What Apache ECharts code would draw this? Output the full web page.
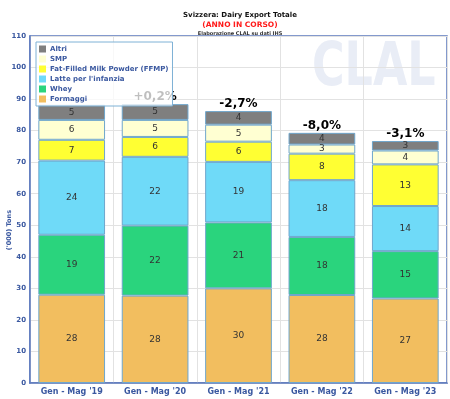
<!DOCTYPE html>
<html>
<head>
<meta charset="utf-8">
<script src="https://cdn.jsdelivr.net/npm/echarts@6/dist/echarts.min.js"></script>
<style>
  html, body { margin: 0; padding: 0; background: #fff; }
  #chart { width: 450px; height: 399px; }
</style>
</head>
<body>
<div id="chart"></div>
<script>
// periodi
const categories = ["Gen - Mag '19", "Gen - Mag '20", "Gen - Mag '21", "Gen - Mag '22", "Gen - Mag '23"]
// ('000) Tons, dal basso verso l'alto
const formaggi = [28.0, 27.7, 30.0, 27.9, 26.8]
const whey = [19.0, 22.2, 20.9, 18.4, 15.0]
const latteInfanzia = [23.5, 21.8, 19.2, 18.0, 14.3]
const ffmp = [6.6, 6.3, 6.4, 8.4, 13.2]
const smp = [6.3, 5.4, 5.4, 2.9, 4.4]
const altri = [4.8, 5.0, 4.3, 3.7, 3.0]
const variazione = ['', '+0,2%', '-2,7%', '-8,0%', '-3,1%']
const yTicks = [0, 10, 20, 30, 40, 50, 60, 70, 80, 90, 100, 110]

const blu = '#3a58a0'

function serie(name, data, color) {
    return {
        name: name,
        type: 'bar',
        stack: 'tot',
        data: data,
        barCategoryGap: '20%',
        itemStyle: { color: color, borderColor: '#6fa6cc', borderWidth: 1 },
        label: {
            show: true,
            position: 'inside',
            fontSize: 9,
            fontFamily: 'DejaVu Sans',
            color: '#333',
            formatter: p => Math.round(p.value)
        },
        emphasis: { disabled: true }
    }
}

let option = {
    animation: false,
    title: [
        {
            text: 'Svizzera: Dairy Export Totale',
            left: 235, top: 7, textAlign: 'center',
            textStyle: { fontSize: 7, fontWeight: 'bold', fontFamily: 'DejaVu Sans', color: '#111' }
        },
        {
            text: '(ANNO IN CORSO)',
            left: 235, top: 16, textAlign: 'center',
            textStyle: { fontSize: 7.5, fontWeight: 'bold', fontFamily: 'DejaVu Sans', color: '#ff1a1a' }
        },
        {
            text: 'Elaborazione CLAL su dati IHS',
            left: 235, top: 26, textAlign: 'center',
            textStyle: { fontSize: 5, fontFamily: 'DejaVu Sans', color: '#333' }
        }
    ],
    graphic: [
        {
            type: 'text', left: 312, top: 39, z: 0, silent: true,
            scaleX: 0.74,
            style: { text: 'CLAL', fontSize: 60, fontWeight: 'bold', fontFamily: 'DejaVu Sans', fill: '#e9edf6' }
        },
        {
            type: 'text', left: 6, top: 210, rotation: Math.PI / 2, silent: true,
            style: {
                text: "('000) Tons", fontSize: 6.5, fontWeight: 'bold', fontFamily: 'DejaVu Sans',
                fill: blu, align: 'center', verticalAlign: 'middle'
            }
        }
    ],
    legend: {
        orient: 'vertical',
        left: 36, top: 42,
        z: 10,
        icon: 'rect',
        itemWidth: 7, itemHeight: 7, itemGap: 2,
        padding: [3, 4, 3, 3],
        backgroundColor: 'rgba(255,255,255,0.75)',
        borderColor: '#7fb2d6', borderWidth: 1,
        itemStyle: { borderWidth: 0 },
        data: ['Altri', 'SMP', 'Fat-Filled Milk Powder (FFMP)', 'Latte per l\'infanzia', 'Whey', 'Formaggi'],
        textStyle: { fontSize: 7, lineHeight: 8, fontWeight: 'bold', fontFamily: 'DejaVu Sans', color: blu, padding: [0, 0, 0, -1] }
    },
    grid: {
        left: 30, right: 3, top: 36, bottom: 16,
        outerBoundsMode: 'none',
        containLabel: false,
        show: true, borderColor: '#5b78bd', borderWidth: 1.5
    },
    xAxis: {
        type: 'category',
        data: categories,
        axisTick: { show: false },
        axisLine: { lineStyle: { color: '#5b78bd', width: 1.5 } },
        splitLine: { show: true, lineStyle: { color: '#e2e2e2' } },
        axisLabel: { interval: 0, fontSize: 8, fontWeight: 'bold', fontFamily: 'DejaVu Sans', color: blu, margin: 5 }
    },
    yAxis: {
        type: 'value',
        min: yTicks[0], max: yTicks[yTicks.length - 1], interval: 10,
        axisLine: { show: true, lineStyle: { color: '#5b78bd', width: 1.5 } },
        axisLabel: { fontSize: 7, fontWeight: 'bold', fontFamily: 'DejaVu Sans', color: blu, margin: 4 },
        splitLine: { lineStyle: { color: '#e2e2e2' } }
    },
    series: [
        serie('Formaggi', formaggi, '#f2be5f'),
        serie('Whey', whey, '#2ad47d'),
        serie('Latte per l\'infanzia', latteInfanzia, '#6fdaf8'),
        serie('Fat-Filled Milk Powder (FFMP)', ffmp, '#ffff33'),
        serie('SMP', smp, '#ffffd2'),
        serie('Altri', altri, '#7f7f7f'),
        {
            name: 'var',
            type: 'bar',
            stack: 'tot',
            data: variazione.map(() => 0),
            itemStyle: { color: 'transparent' },
            label: {
                show: true,
                position: 'top',
                distance: 1,
                fontSize: 12,
                fontWeight: 'bold',
                fontFamily: 'DejaVu Sans',
                color: '#000',
                formatter: p => variazione[p.dataIndex]
            },
            emphasis: { disabled: true }
        }
    ]
}

let charts = echarts.init(document.getElementById('chart'))
charts.setOption(option)
</script>
</body>
</html>
